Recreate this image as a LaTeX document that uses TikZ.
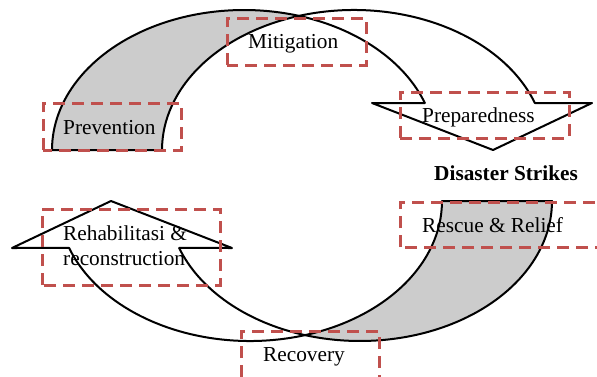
\documentclass[tikz,border=0pt]{standalone}
\usepackage{fontspec}
\setmainfont{Liberation Serif}
\definecolor{boxred}{RGB}{192,80,77}
\definecolor{backgray}{RGB}{204,204,204}
\tikzset{
  outline/.style={draw=black, line width=2pt, line join=round},
  backpart/.style={outline, fill=backgray},
  frontpart/.style={outline, fill=white},
  dashbox/.style={draw=boxred, line width=3pt, dash pattern=on 12pt off 7pt},
  lbl/.style={inner sep=0pt, anchor=base west, font=\fontsize{21.3}{25}\selectfont},
  curvedarrow/.pic={
    \path[backpart] (52,226)
      arc[start angle=180, end angle=73.35, x radius=192pt, y radius=140pt]
      arc[start angle=106.65, end angle=180, x radius=192pt, y radius=140pt]
      -- cycle;
    \path[frontpart] (299,360.13)
      arc[start angle=106.65, end angle=19.6, x radius=192pt, y radius=140pt]
      -- (592,273) -- (493,226) -- (372,273) -- (424.87,272.96)
      arc[start angle=19.6, end angle=73.35, x radius=192pt, y radius=140pt]
      -- cycle;
  }
}
\begin{document}
\begin{tikzpicture}[x=1pt,y=1pt]
\useasboundingbox (0,0) rectangle (597,376);
\pic at (0,0) {curvedarrow};
\pic[rotate=180] at (604,401) {curvedarrow};
% dashed boxes
\draw[dashbox] (43,226) rectangle (181,273);
\draw[dashbox] (227,311) rectangle (366,358);
\draw[dashbox] (400,238) rectangle (569,284);
\draw[dashbox] (42,91) rectangle (220,167);
\draw[dashbox] (400,129) rectangle (620,174);
\draw[dashbox] (241,-20) rectangle (379,45);
% labels
\node[lbl] (prev) at (63,242) {Prevention};
\node[lbl] (miti) at (248,328) {Mitigation};
\node[lbl] (prep) at (422,254) {Preparedness};
\node[lbl, font=\bfseries\fontsize{21.3}{25}\selectfont] (strike) at (434,196) {Disaster Strikes};
\node[lbl] (rehabA) at (63,136) {Rehabilitasi \&};
\node[lbl] (rehabB) at (63,111) {reconstruction};
\node[lbl] (resc) at (422,144) {Rescue \& Relief};
\node[lbl] (reco) at (263,15) {Recovery};
\end{tikzpicture}
\end{document}
